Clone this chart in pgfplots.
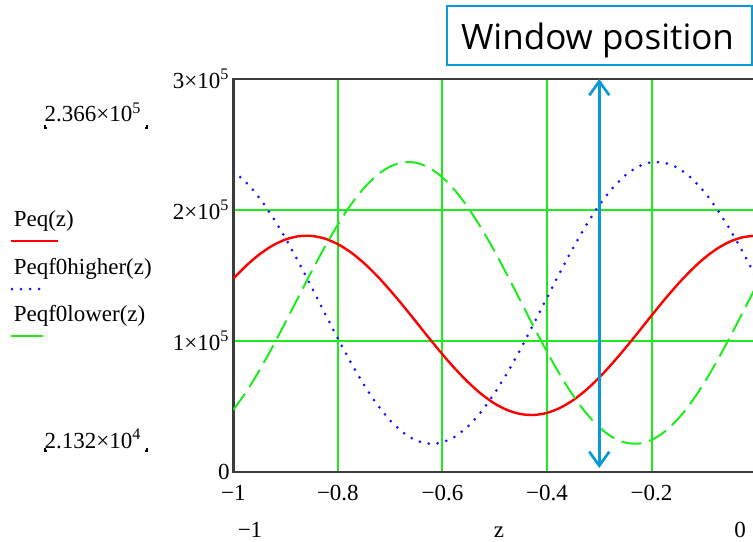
\documentclass[border=0pt]{standalone}
\usepackage{pgfplots}
\pgfplotsset{compat=1.18}
\usepackage{pgfplotstable}
\usepackage{fontspec}
\setmainfont{Liberation Serif}
\newfontfamily\uifont{Open Sans}
\usetikzlibrary{arrows.meta}
\definecolor{mcgreen}{RGB}{30,235,30}
\definecolor{mcred}{RGB}{255,0,0}
\definecolor{mcblue}{RGB}{20,20,255}
\definecolor{wpblue}{RGB}{10,155,215}
\definecolor{axgray}{RGB}{60,60,60}

\pgfplotstableread{
z      peq    hi     lo
-1.000 147450 229500 47210
-0.975 157510 220840 61190
-0.950 166020 209130 77410
-0.925 172720 194660 95380
-0.900 177400 178190 114330
-0.875 179890 160000 133850
-0.850 180120 140740 153190
-0.825 178070 121100 171690
-0.800 173820 101720 188820
-0.775 167510 83370  204040
-0.750 159350 66330  216730
-0.725 149580 51460  226540
-0.700 138550 39190  233140
-0.675 126700 29890  236320
-0.650 114300 23890  235970
-0.625 101810 21390  232090
-0.600 89660  22470  224830
-0.575 78280  27090  214400
-0.550 68040  35030  201180
-0.525 59160  46250  185550
-0.500 52030  60190  168230
-0.475 46970  76270  149350
-0.450 44030  94170  129940
-0.425 43350  113290 110470
-0.400 44940  132890 91630
-0.375 48770  152370 74010
-0.350 54670  171000 58210
-0.325 62480  188330 44720
-0.300 71950  203670 34000
-0.275 82790  216500 26410
-0.250 94460  226420 22190
-0.225 106800 233100 21480
-0.200 119290 236310 24300
-0.175 131530 235950 30580
-0.150 143130 232040 40080
-0.125 153610 224680 52500
-0.100 162820 214160 67440
-0.075 170270 200790 84440
-0.050 175780 184980 102830
-0.025 179160 167490 122110
0.000  180300 148500 141620
}\datatable

\begin{document}
\begin{tikzpicture}[x=1pt,y=1pt]
\useasboundingbox (0,0) rectangle (376.5,270.5);
\begin{axis}[
  scale only axis, width=261.4pt, height=196.35pt,
  at={(116.65pt,34.65pt)}, anchor=south west,
  xmin=-1, xmax=0, ymin=0, ymax=3e5,
  scaled x ticks=false, scaled y ticks=false,
  xtick={-1,-0.8,-0.6,-0.4,-0.2,0},
  xticklabels={−1,−0.8,−0.6,−0.4,−0.2,{}},
  ytick={0,1e5,2e5,3e5},
  yticklabels={0,1×10\textsuperscript{5},2×10\textsuperscript{5},3×10\textsuperscript{5}},
  major tick length=0pt,
  grid=major, major grid style={mcgreen, line width=1pt},
  axis line style={axgray, line width=1.2pt},
  tick label style={font=\fontsize{11.5}{13}\selectfont, text=black},
  xticklabel style={anchor=base, yshift=-14.5pt},
  yticklabel style={anchor=east, inner sep=0pt, xshift=-1.7pt},
]
\addplot[mcred, line width=1.2pt, smooth] table[x=z,y=peq]{\datatable};
\addplot[mcblue, line width=1.5pt, line cap=round, dash pattern=on 0pt off 4.5pt, smooth] table[x=z,y=hi]{\datatable};
\addplot[mcgreen, line width=1pt, dash pattern=on 10pt off 4pt, smooth] table[x=z,y=lo]{\datatable};
\coordinate (atop) at (axis cs:-0.3,300000);
\coordinate (abot) at (axis cs:-0.3,2800);
\end{axis}
\draw[wpblue, line width=1.35pt, {Straight Barb[length=7pt,width=10pt]}-{Straight Barb[length=7pt,width=10pt]}] (atop) -- (abot);
\begin{scope}[every node/.style={font=\fontsize{11.5}{13}\selectfont, inner sep=0pt}]
\node[anchor=base] at (125,2) {−1};
\node[anchor=base] at (249.5,2) {z};
\node[anchor=base] at (370,2) {0};
\node[anchor=base] at (46.5,209.5) {2.366×10\textsuperscript{5}};
\node[anchor=base] at (46.5,46.5) {2.132×10\textsuperscript{4}};
\node[anchor=base west] at (6.7,157.2) {Peq(z)};
\node[anchor=base west] at (6.7,133) {Peqf0higher(z)};
\node[anchor=base west] at (6.7,109.7) {Peqf0lower(z)};
\end{scope}
\draw[line width=0.6pt] (22.5,208) -- (22.5,206.5) -- (23.5,206.5);
\draw[line width=0.6pt] (73.5,208) -- (73.5,206.5) -- (72.5,206.5);
\draw[line width=0.6pt] (22.5,46.5) -- (22.5,45) -- (23.5,45);
\draw[line width=0.6pt] (73.5,46.5) -- (73.5,45) -- (72.5,45);
\draw[mcred, line width=1.2pt] (5.5,150) -- (29,150);
\draw[mcblue, line width=1.5pt, line cap=round, dash pattern=on 0pt off 4.5pt] (6,126) -- (24,126);
\draw[mcgreen, line width=1.2pt] (5.5,102.5) -- (21.5,102.5);
\draw[wpblue, line width=1pt] (223.25,237.75) rectangle (376,267.25);
\node[anchor=base, font=\uifont\fontsize{17.5}{20}\selectfont, inner sep=0pt] at (298.75,245.5) {Window position};
\end{tikzpicture}
\end{document}
